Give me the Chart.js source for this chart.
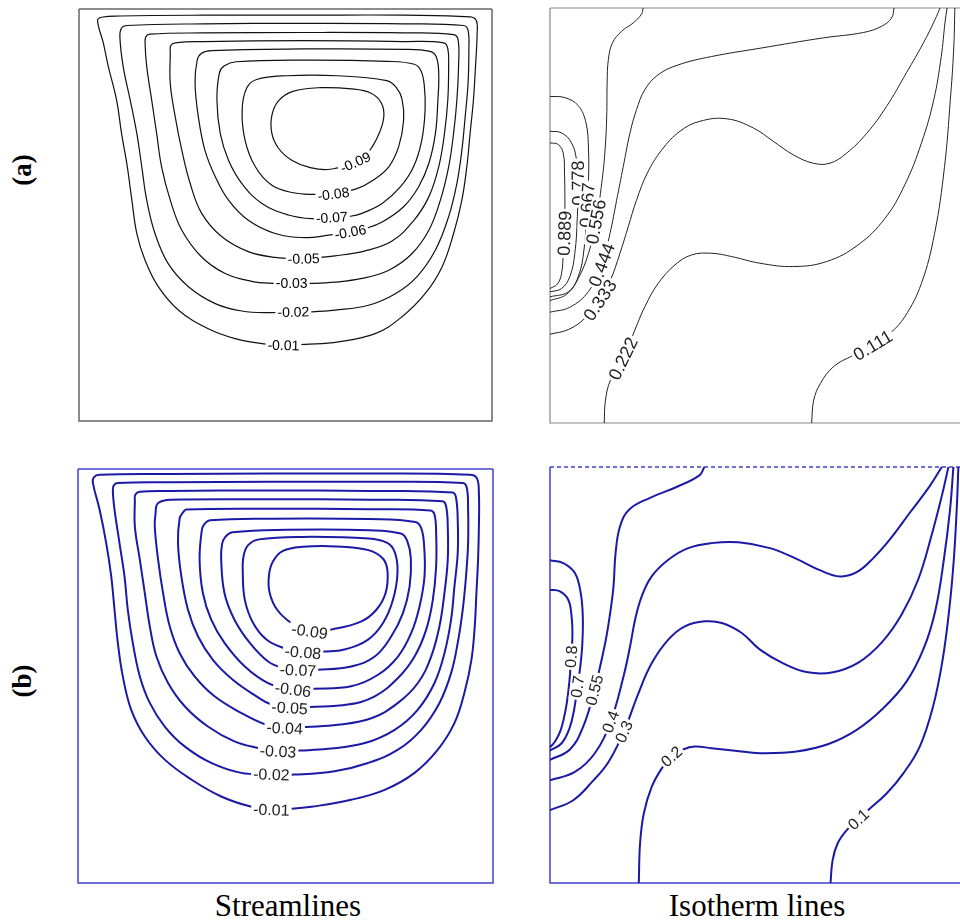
<!DOCTYPE html>
<html><head><meta charset="utf-8">
<script src="https://cdn.jsdelivr.net/npm/chart.js@4.4.1/dist/chart.umd.min.js"></script>
<style>
html,body{margin:0;padding:0;background:#fff;width:960px;height:922px;overflow:hidden;position:relative;}
canvas{position:absolute;}
.t{position:absolute;font-family:"Liberation Serif","Times New Roman",serif;color:#000;white-space:nowrap;text-align:center;}
</style></head><body>
<canvas id="sa" width="421" height="420" style="left:75px;top:5px"></canvas>
<canvas id="ia" width="422" height="423" style="left:546px;top:4px"></canvas>
<canvas id="sb" width="423" height="422" style="left:74px;top:465px"></canvas>
<canvas id="ib" width="423" height="424" style="left:546px;top:463px"></canvas>
<div class="t" style="left:-8px;top:155px;width:60px;height:30px;line-height:30px;font-size:27px;font-weight:bold;transform:rotate(-90deg)">(a)</div>
<div class="t" style="left:-8px;top:666px;width:60px;height:30px;line-height:30px;font-size:27px;font-weight:bold;transform:rotate(-90deg)">(b)</div>
<div class="t" style="left:188px;top:890px;width:200px;font-size:31px;line-height:31px">Streamlines</div>
<div class="t" style="left:657px;top:890px;width:200px;font-size:31px;line-height:31px">Isotherm lines</div>
<script>
// ---- (a) streamlines: closed contours, coordinates X,Y in [0,1] ----
const streamALevels = ['-0.01','-0.02','-0.03','-0.05','-0.06','-0.07','-0.08','-0.09'];
const streamA_1 = [[0.495,0.184],[0.548,0.186],[0.628,0.192],[0.717,0.212],[0.782,0.253],[0.838,0.309],[0.879,0.374],[0.907,0.455],[0.927,0.536],[0.939,0.617],[0.947,0.698],[0.955,0.779],[0.960,0.860],[0.964,0.941],[0.962,0.972],[0.947,0.981],[0.786,0.985],[0.544,0.985],[0.301,0.985],[0.099,0.983],[0.055,0.980],[0.045,0.972],[0.059,0.917],[0.071,0.860],[0.091,0.779],[0.103,0.698],[0.117,0.617],[0.128,0.536],[0.140,0.455],[0.160,0.390],[0.192,0.326],[0.241,0.269],[0.313,0.224],[0.378,0.200],[0.443,0.188]];
const streamA_2 = [[0.519,0.265],[0.564,0.265],[0.620,0.269],[0.701,0.281],[0.766,0.309],[0.818,0.350],[0.863,0.415],[0.895,0.496],[0.915,0.577],[0.927,0.657],[0.935,0.738],[0.942,0.819],[0.944,0.900],[0.942,0.949],[0.931,0.960],[0.786,0.964],[0.544,0.965],[0.301,0.964],[0.116,0.960],[0.103,0.954],[0.099,0.933],[0.107,0.860],[0.124,0.779],[0.140,0.698],[0.152,0.617],[0.164,0.536],[0.184,0.455],[0.216,0.382],[0.265,0.326],[0.330,0.285],[0.394,0.267],[0.463,0.263]];
const streamA_3 = [[0.515,0.334],[0.560,0.334],[0.620,0.337],[0.685,0.346],[0.750,0.366],[0.806,0.406],[0.847,0.463],[0.875,0.536],[0.895,0.617],[0.907,0.698],[0.915,0.779],[0.919,0.860],[0.918,0.925],[0.907,0.938],[0.786,0.942],[0.544,0.943],[0.301,0.942],[0.172,0.939],[0.162,0.933],[0.160,0.917],[0.164,0.860],[0.176,0.779],[0.188,0.698],[0.200,0.617],[0.221,0.536],[0.249,0.463],[0.297,0.398],[0.354,0.358],[0.418,0.339],[0.471,0.334]];
const streamA_4 = [[0.544,0.394],[0.620,0.401],[0.693,0.413],[0.758,0.437],[0.810,0.486],[0.847,0.544],[0.871,0.617],[0.885,0.698],[0.893,0.779],[0.895,0.860],[0.893,0.904],[0.883,0.918],[0.786,0.921],[0.544,0.923],[0.301,0.921],[0.233,0.918],[0.222,0.911],[0.221,0.892],[0.221,0.819],[0.233,0.738],[0.249,0.657],[0.269,0.577],[0.297,0.504],[0.346,0.447],[0.410,0.411],[0.475,0.397]];
const streamA_5 = [[0.657,0.459],[0.693,0.467],[0.734,0.483],[0.786,0.520],[0.822,0.568],[0.847,0.625],[0.863,0.698],[0.869,0.779],[0.871,0.844],[0.865,0.884],[0.850,0.897],[0.786,0.902],[0.544,0.903],[0.320,0.899],[0.296,0.892],[0.286,0.875],[0.281,0.819],[0.289,0.738],[0.305,0.657],[0.330,0.593],[0.362,0.536],[0.410,0.487],[0.475,0.455],[0.548,0.445],[0.604,0.451]];
const streamA_6 = [[0.612,0.494],[0.657,0.497],[0.685,0.504],[0.734,0.528],[0.778,0.568],[0.810,0.617],[0.830,0.682],[0.838,0.755],[0.836,0.815],[0.828,0.850],[0.812,0.866],[0.746,0.873],[0.544,0.876],[0.380,0.872],[0.352,0.862],[0.340,0.845],[0.334,0.779],[0.342,0.698],[0.362,0.633],[0.394,0.577],[0.443,0.528],[0.507,0.500],[0.564,0.491]];
const streamA_7 = [[0.616,0.551],[0.673,0.564],[0.713,0.585],[0.750,0.617],[0.774,0.666],[0.786,0.730],[0.782,0.782],[0.768,0.810],[0.745,0.826],[0.624,0.838],[0.503,0.838],[0.430,0.829],[0.406,0.808],[0.395,0.755],[0.402,0.682],[0.427,0.617],[0.467,0.572],[0.519,0.554],[0.568,0.550]];
const streamA_8 = [[0.669,0.628],[0.701,0.653],[0.725,0.694],[0.738,0.738],[0.732,0.772],[0.706,0.796],[0.660,0.806],[0.584,0.809],[0.518,0.800],[0.484,0.778],[0.467,0.742],[0.467,0.698],[0.483,0.662],[0.515,0.633],[0.560,0.615],[0.608,0.611]];

// ---- (b) streamlines ----
const streamBLevels = ['-0.01','-0.02','-0.03','-0.04','-0.05','-0.06','-0.07','-0.08','-0.09'];
const streamB_1 = [[0.466,0.177],[0.522,0.180],[0.562,0.184],[0.658,0.201],[0.739,0.225],[0.811,0.266],[0.867,0.322],[0.907,0.386],[0.931,0.459],[0.948,0.539],[0.956,0.620],[0.960,0.700],[0.964,0.781],[0.966,0.861],[0.966,0.942],[0.961,0.978],[0.944,0.986],[0.703,0.989],[0.462,0.989],[0.221,0.988],[0.052,0.986],[0.038,0.980],[0.036,0.966],[0.052,0.902],[0.068,0.821],[0.080,0.741],[0.088,0.660],[0.096,0.580],[0.108,0.499],[0.128,0.419],[0.161,0.354],[0.209,0.298],[0.273,0.250],[0.345,0.209],[0.418,0.184]];
const streamB_2 = [[0.466,0.262],[0.522,0.262],[0.618,0.270],[0.699,0.290],[0.771,0.322],[0.827,0.370],[0.871,0.435],[0.899,0.507],[0.915,0.580],[0.927,0.660],[0.935,0.741],[0.940,0.821],[0.940,0.902],[0.937,0.954],[0.927,0.966],[0.703,0.969],[0.462,0.969],[0.221,0.968],[0.096,0.966],[0.086,0.960],[0.084,0.946],[0.088,0.902],[0.100,0.821],[0.112,0.741],[0.120,0.660],[0.132,0.580],[0.149,0.499],[0.173,0.435],[0.209,0.378],[0.257,0.330],[0.321,0.290],[0.393,0.266]];
const streamB_3 = [[0.482,0.318],[0.534,0.320],[0.602,0.324],[0.691,0.338],[0.763,0.370],[0.819,0.419],[0.859,0.483],[0.883,0.555],[0.899,0.636],[0.907,0.716],[0.915,0.797],[0.915,0.877],[0.911,0.930],[0.903,0.943],[0.703,0.947],[0.462,0.948],[0.221,0.947],[0.149,0.945],[0.138,0.938],[0.137,0.922],[0.137,0.861],[0.149,0.781],[0.161,0.700],[0.173,0.620],[0.189,0.547],[0.217,0.483],[0.257,0.427],[0.313,0.378],[0.377,0.342],[0.434,0.326]];
const streamB_4 = [[0.498,0.374],[0.550,0.377],[0.626,0.382],[0.707,0.398],[0.771,0.435],[0.819,0.483],[0.851,0.547],[0.871,0.620],[0.883,0.700],[0.891,0.781],[0.891,0.861],[0.887,0.910],[0.878,0.922],[0.703,0.926],[0.462,0.927],[0.221,0.926],[0.201,0.922],[0.190,0.914],[0.187,0.894],[0.185,0.861],[0.193,0.781],[0.205,0.700],[0.221,0.620],[0.245,0.555],[0.281,0.499],[0.329,0.451],[0.393,0.411],[0.454,0.382]];
const streamB_5 = [[0.510,0.423],[0.558,0.425],[0.650,0.431],[0.715,0.451],[0.771,0.495],[0.811,0.547],[0.839,0.612],[0.855,0.684],[0.863,0.765],[0.863,0.845],[0.859,0.890],[0.849,0.900],[0.703,0.903],[0.462,0.904],[0.261,0.902],[0.253,0.895],[0.245,0.881],[0.241,0.821],[0.249,0.741],[0.265,0.660],[0.289,0.596],[0.325,0.539],[0.373,0.491],[0.430,0.451],[0.466,0.431]];
const streamB_6 = [[0.518,0.467],[0.566,0.469],[0.658,0.475],[0.723,0.503],[0.771,0.547],[0.803,0.604],[0.823,0.668],[0.835,0.741],[0.834,0.815],[0.827,0.857],[0.813,0.872],[0.703,0.879],[0.462,0.880],[0.318,0.876],[0.304,0.866],[0.298,0.850],[0.293,0.781],[0.301,0.700],[0.321,0.636],[0.353,0.580],[0.402,0.523],[0.458,0.483]];
const streamB_7 = [[0.530,0.514],[0.578,0.515],[0.658,0.523],[0.715,0.547],[0.755,0.596],[0.783,0.652],[0.799,0.716],[0.802,0.785],[0.793,0.827],[0.778,0.844],[0.703,0.852],[0.502,0.853],[0.372,0.847],[0.355,0.836],[0.347,0.818],[0.345,0.781],[0.353,0.700],[0.377,0.636],[0.414,0.580],[0.458,0.535],[0.494,0.519]];
const streamB_8 = [[0.542,0.557],[0.594,0.559],[0.642,0.564],[0.699,0.588],[0.735,0.628],[0.759,0.684],[0.770,0.752],[0.763,0.800],[0.744,0.822],[0.700,0.832],[0.542,0.836],[0.436,0.830],[0.410,0.816],[0.399,0.790],[0.397,0.752],[0.402,0.684],[0.422,0.628],[0.454,0.588],[0.494,0.568]];
const streamB_9 = [[0.558,0.608],[0.614,0.613],[0.683,0.632],[0.719,0.660],[0.741,0.700],[0.746,0.750],[0.736,0.782],[0.700,0.804],[0.622,0.813],[0.542,0.812],[0.494,0.802],[0.470,0.777],[0.460,0.742],[0.462,0.700],[0.480,0.660],[0.514,0.628]];

// ---- (a) isotherms: open contours ----
const isoALevels = ['0.889','0.778','0.667','0.556','0.444','0.333','0.222','0.111'];
const isoALabelAt = [5,4,6,10,15,21,18,8];
const isoA_1 = [[0,0.675],[0.020,0.671],[0.032,0.650],[0.035,0.602],[0.036,0.522],[0.035,0.457],[0.032,0.409],[0.028,0.361],[0.018,0.335],[0,0.324]];
const isoA_2 = [[0,0.703],[0.028,0.699],[0.052,0.675],[0.064,0.634],[0.068,0.578],[0.066,0.497],[0.060,0.409],[0.048,0.353],[0.028,0.324],[0,0.316]];
const isoA_3 = [[0,0.787],[0.036,0.784],[0.068,0.765],[0.087,0.723],[0.093,0.658],[0.093,0.586],[0.090,0.525],[0.082,0.417],[0.068,0.352],[0.044,0.316],[0,0.304]];
const isoA_4 = [[0.225,1.0],[0.221,0.985],[0.201,0.964],[0.173,0.944],[0.151,0.916],[0.141,0.876],[0.138,0.819],[0.137,0.739],[0.133,0.658],[0.125,0.578],[0.111,0.485],[0.093,0.409],[0.068,0.348],[0.040,0.310],[0,0.295]];
const isoA_5 = [[0.831,1.0],[0.825,0.976],[0.801,0.956],[0.757,0.941],[0.660,0.928],[0.507,0.903],[0.390,0.883],[0.310,0.863],[0.261,0.839],[0.229,0.803],[0.209,0.755],[0.193,0.698],[0.177,0.618],[0.161,0.537],[0.145,0.457],[0.125,0.381],[0.093,0.317],[0.048,0.279],[0,0.267]];
const isoA_6 = [[0.942,1.0],[0.930,0.972],[0.902,0.916],[0.861,0.844],[0.813,0.763],[0.765,0.698],[0.716,0.650],[0.676,0.626],[0.636,0.626],[0.588,0.646],[0.539,0.679],[0.491,0.711],[0.427,0.733],[0.362,0.727],[0.314,0.703],[0.270,0.658],[0.235,0.602],[0.209,0.537],[0.189,0.473],[0.169,0.409],[0.146,0.344],[0.121,0.296],[0.084,0.252],[0.044,0.225],[0,0.214]];
const isoA_7 = [[0.959,1.0],[0.954,0.964],[0.945,0.883],[0.927,0.779],[0.897,0.674],[0.857,0.574],[0.809,0.493],[0.744,0.429],[0.668,0.389],[0.588,0.377],[0.507,0.385],[0.439,0.401],[0.390,0.409],[0.342,0.405],[0.302,0.381],[0.261,0.336],[0.229,0.280],[0.205,0.224],[0.177,0.155],[0.146,0.103],[0.134,0.055],[0.131,0]];
const isoA_8 = [[0.978,1.0],[0.975,0.899],[0.967,0.779],[0.953,0.618],[0.929,0.457],[0.897,0.336],[0.857,0.256],[0.821,0.216],[0.780,0.187],[0.732,0.163],[0.684,0.135],[0.653,0.095],[0.637,0.055],[0.632,0]];

// ---- (b) isotherms ----
const isoBLevels = ['0.8','0.7','0.55','0.4','0.3','0.2','0.1'];
const isoBLabelAt = [5,7,10,19,18,15,10];
const isoB_1 = [[0,0.705],[0.024,0.701],[0.044,0.681],[0.052,0.641],[0.054,0.593],[0.051,0.544],[0.047,0.488],[0.039,0.424],[0.026,0.368],[0.012,0.340],[0,0.326]];
const isoB_2 = [[0,0.776],[0.032,0.769],[0.060,0.745],[0.074,0.697],[0.079,0.641],[0.078,0.577],[0.073,0.520],[0.066,0.472],[0.058,0.416],[0.047,0.372],[0.028,0.336],[0,0.318]];
const isoB_3 = [[0.372,1.0],[0.360,0.980],[0.305,0.952],[0.241,0.926],[0.191,0.898],[0.169,0.858],[0.158,0.793],[0.153,0.713],[0.145,0.649],[0.133,0.577],[0.107,0.464],[0.080,0.376],[0.048,0.321],[0,0.296]];
const isoB_4 = [[0.944,1.0],[0.915,0.954],[0.867,0.890],[0.819,0.826],[0.779,0.781],[0.739,0.747],[0.699,0.737],[0.650,0.752],[0.594,0.779],[0.530,0.805],[0.454,0.819],[0.389,0.817],[0.333,0.805],[0.285,0.777],[0.245,0.737],[0.221,0.689],[0.205,0.633],[0.193,0.569],[0.177,0.496],[0.146,0.388],[0.108,0.312],[0.060,0.267],[0,0.247]];
const isoB_5 = [[0.960,1.0],[0.944,0.930],[0.919,0.834],[0.887,0.729],[0.847,0.645],[0.799,0.578],[0.743,0.530],[0.679,0.506],[0.618,0.507],[0.562,0.528],[0.506,0.561],[0.462,0.601],[0.414,0.625],[0.373,0.629],[0.325,0.617],[0.285,0.585],[0.245,0.528],[0.213,0.456],[0.178,0.364],[0.141,0.291],[0.104,0.246],[0.056,0.199],[0,0.175]];
const isoB_6 = [[0.972,1.0],[0.964,0.898],[0.949,0.777],[0.929,0.657],[0.901,0.565],[0.859,0.484],[0.803,0.420],[0.739,0.368],[0.671,0.334],[0.594,0.316],[0.506,0.312],[0.446,0.318],[0.389,0.324],[0.349,0.328],[0.321,0.321],[0.293,0.304],[0.269,0.275],[0.245,0.231],[0.226,0.167],[0.217,0.095],[0.214,0]];
const isoB_7 = [[0.984,1.0],[0.980,0.898],[0.973,0.777],[0.962,0.657],[0.946,0.536],[0.923,0.424],[0.891,0.328],[0.851,0.263],[0.811,0.215],[0.771,0.179],[0.743,0.153],[0.715,0.127],[0.693,0.095],[0.681,0.055],[0.676,0]];

function makePanel(id, contours, levels, labelAt, closed, st) {
  const datasets = contours.map((pts) => {
    const data = pts.map(p => ({x: p[0], y: p[1]}));
    if (closed) data.push({x: pts[0][0], y: pts[0][1]});
    return {data, showLine: true, pointRadius: 0, pointHoverRadius: 0, borderColor: st.line,
            borderWidth: st.lw, tension: 0.4, fill: false, clip: false};
  });
  const framePlugin = {
    id: 'frame',
    beforeDatasetsDraw(chart) {
      const a = chart.chartArea, c = chart.ctx;
      c.save();
      c.strokeStyle = st.frame; c.lineWidth = st.frameW;
      c.beginPath();
      c.moveTo(a.left, a.top); c.lineTo(a.left, a.bottom); c.lineTo(a.right, a.bottom); c.lineTo(a.right, a.top);
      c.stroke();
      if (st.dashTop) c.setLineDash([4, 3]);
      c.beginPath(); c.moveTo(a.left, a.top); c.lineTo(a.right, a.top); c.stroke();
      c.restore();
    }
  };
  const labelPlugin = {
    id: 'clabels',
    afterDatasetsDraw(chart) {
      const c = chart.ctx, xs = chart.scales.x, ys = chart.scales.y;
      c.save();
      c.font = st.font; c.textAlign = 'center'; c.textBaseline = 'middle';
      chart.data.datasets.forEach((ds, i) => {
        const d = ds.data, n = d.length;
        const k = closed ? 0 : labelAt[i];
        const p = d[k];
        const prev = closed ? d[n - 2] : d[Math.max(0, k - 1)];
        const next = d[Math.min(n - 1, k + 1)];
        const px = xs.getPixelForValue(p.x), py = ys.getPixelForValue(p.y);
        let ang = Math.atan2(ys.getPixelForValue(next.y) - ys.getPixelForValue(prev.y),
                             xs.getPixelForValue(next.x) - xs.getPixelForValue(prev.x)) * 180 / Math.PI;
        if (ang > 80) ang -= 180;
        if (ang < -100) ang += 180;
        const txt = levels[i];
        const w = c.measureText(txt).width;
        c.save();
        c.translate(px, py);
        c.rotate(ang * Math.PI / 180);
        c.fillStyle = '#fff';
        c.fillRect(-w / 2 - 2, -st.fs * 0.45, w + 4, st.fs * 0.9);
        c.fillStyle = st.text;
        c.fillText(txt, 0, 1);
        c.restore();
      });
      c.restore();
    }
  };
  new Chart(document.getElementById(id), {
    type: 'scatter',
    data: {datasets},
    options: {
      responsive: false, animation: false, events: [],
      layout: {padding: 4},
      plugins: {legend: {display: false}, tooltip: {enabled: false}},
      scales: {
        x: {type: 'linear', min: 0, max: 1, display: false},
        y: {type: 'linear', min: 0, max: 1, display: false}
      }
    },
    plugins: [framePlugin, labelPlugin]
  });
}

makePanel('sa', [streamA_1, streamA_2, streamA_3, streamA_4, streamA_5, streamA_6, streamA_7, streamA_8],
  streamALevels, null, true,
  {line: '#111', lw: 1.2, frame: '#666', frameW: 1.5, font: '14px "Liberation Sans", Arial, sans-serif', fs: 14, text: '#000'});
makePanel('sb', [streamB_1, streamB_2, streamB_3, streamB_4, streamB_5, streamB_6, streamB_7, streamB_8, streamB_9],
  streamBLevels, null, true,
  {line: '#1a1aa6', lw: 2, frame: '#4040cc', frameW: 1.5, font: '16px "Liberation Sans", Arial, sans-serif', fs: 16, text: '#222'});
makePanel('ia', [isoA_1, isoA_2, isoA_3, isoA_4, isoA_5, isoA_6, isoA_7, isoA_8],
  isoALevels, isoALabelAt, false,
  {line: '#222', lw: 1, frame: '#888', frameW: 1.2, font: '18px "Liberation Sans", Arial, sans-serif', fs: 18, text: '#222'});
makePanel('ib', [isoB_1, isoB_2, isoB_3, isoB_4, isoB_5, isoB_6, isoB_7],
  isoBLevels, isoBLabelAt, false,
  {line: '#1a1aa6', lw: 2, frame: '#4040cc', frameW: 1.5, dashTop: true, font: '16px "Liberation Sans", Arial, sans-serif', fs: 16, text: '#222'});
</script>
</body></html>
